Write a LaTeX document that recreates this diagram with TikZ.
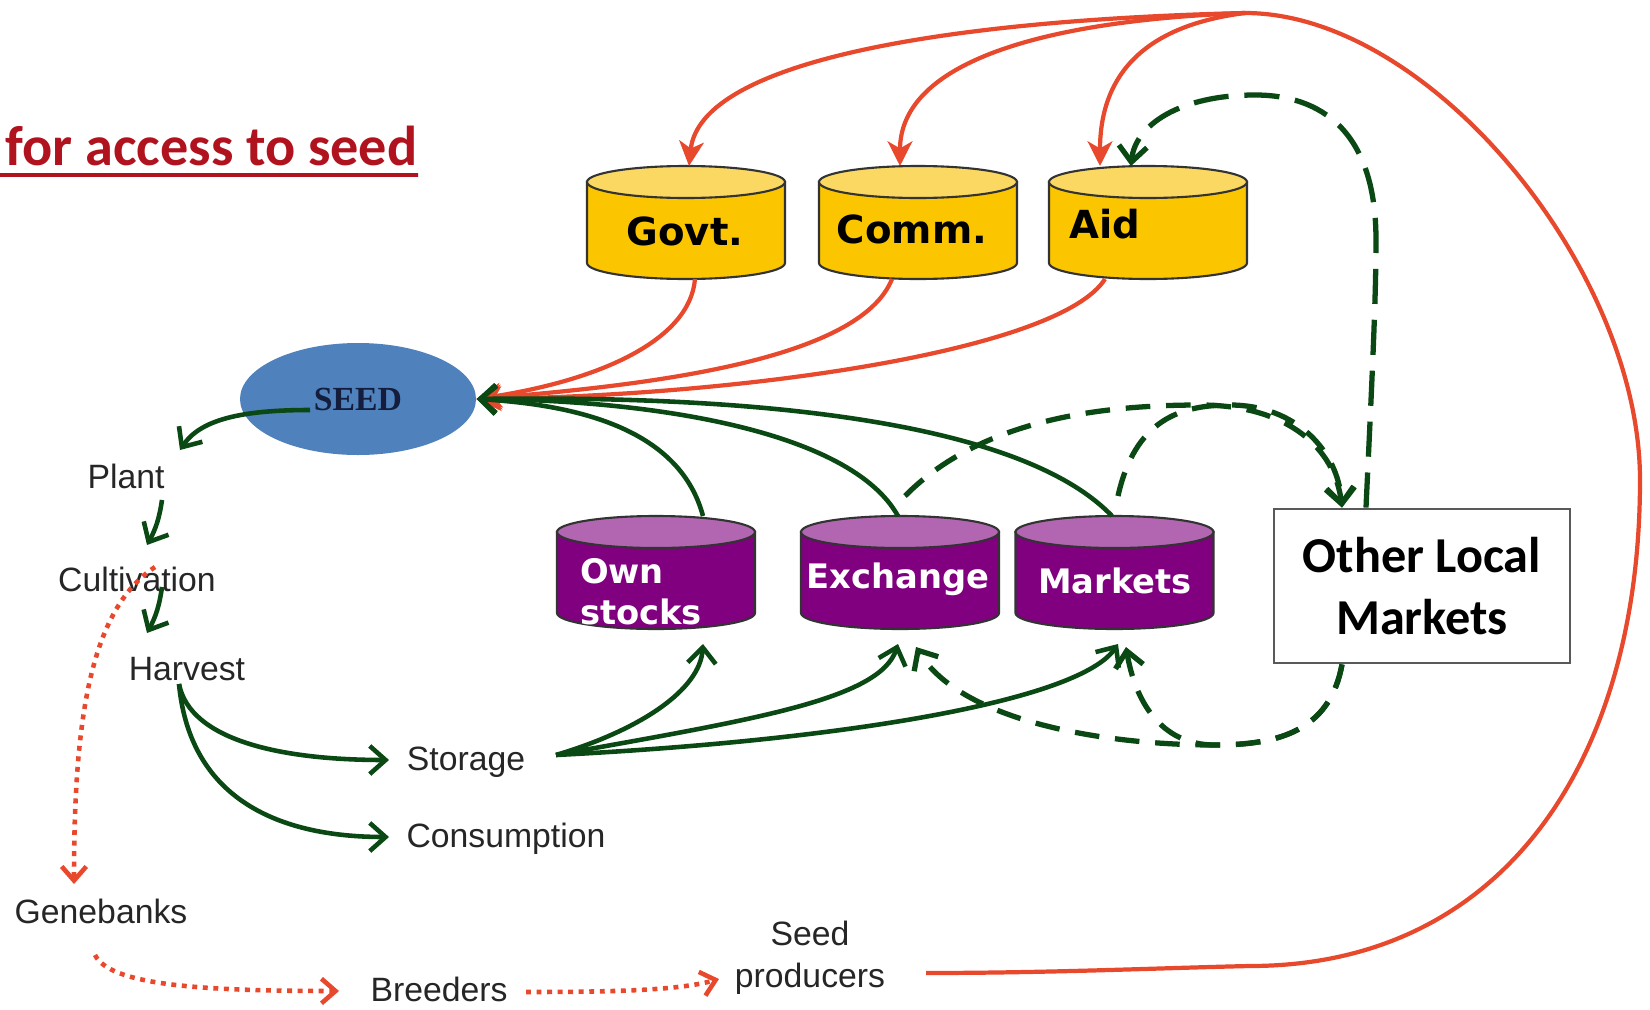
\documentclass[tikz,border=0pt]{standalone}
\usepackage{fontspec}
\setmainfont{Liberation Sans}
\newfontfamily\calibri{Carlito}
\newfontfamily\verdana{DejaVu Sans}
\newfontfamily\timesrm{Liberation Serif}
\usepackage{tikz}
\usetikzlibrary{shapes.geometric}
\usetikzlibrary{arrows.meta}
\definecolor{linkred}{RGB}{232,72,44}
\definecolor{linkgreen}{RGB}{10,72,20}
\definecolor{titlered}{RGB}{176,18,30}
\definecolor{goldbody}{RGB}{251,197,0}
\definecolor{goldtop}{RGB}{250,216,98}
\definecolor{plumbody}{RGB}{128,0,128}
\definecolor{plumtop}{RGB}{178,102,178}
\definecolor{seedblue}{RGB}{79,129,189}
\definecolor{seedtext}{RGB}{20,30,60}

% a store drum: name, x, y, body colour, lid colour
\newcommand{\storecyl}[5]{%
  \node[minimum width=1.98cm, minimum height=1.13cm, inner sep=0pt, outer sep=0pt] (#1) at (#2,#3) {};
  \filldraw[fill=#4, draw=black!80, line width=.6pt] ([yshift=-.16cm]#1.north west) -- ++(0,-.81)
    arc[start angle=180, end angle=360, x radius=.99, y radius=.16] -- ++(0,.81) -- cycle;
  \filldraw[fill=#5, draw=black!80, line width=.6pt] ([yshift=-.16cm]#1.north) ellipse[x radius=.99, y radius=.16];
}

\begin{document}
\begin{tikzpicture}[
  lbl/.style = {font=\fontsize{9.6}{12}\selectfont, text=black!85, inner sep=1pt},
  goldlbl/.style = {font=\verdana\bfseries\fontsize{11}{13}\selectfont, inner sep=0pt},
  plumlbl/.style = {font=\verdana\bfseries\fontsize{9.6}{11.7}\selectfont, text=white, align=left, inner sep=0pt},
  redlink/.style = {linkred, line width=1.2pt, -{Stealth[length=7pt,width=7pt,inset=2pt]}},
  greenlink/.style = {linkgreen, line width=1.3pt, -{Straight Barb[length=4.5pt,width=8pt]}},
  shortdash/.style = {greenlink, line width=1.5pt, dash pattern=on 7pt off 4.5pt},
  longdash/.style = {greenlink, line width=1.5pt, dash pattern=on 10pt off 4.5pt},
  dotlink/.style = {linkred, line width=1.3pt, dash pattern=on 1.4pt off 1.6pt, -{Straight Barb[length=4pt,width=7pt]}}
]
\useasboundingbox (0,0) rectangle (16.5,-10.1);
\fill[white] (0,0) rectangle (16.5,-10.1);

% title
\node[anchor=base west, inner sep=0pt, text=titlered, font=\calibri\bfseries\fontsize{16}{19}\selectfont] (title) at (.05,-1.65) {for access to seed};
\draw[titlered, line width=1pt] (0,-1.75) -- ([yshift=-.1cm]title.base east);

% stores
\storecyl{govt}{6.86}{-2.225}{goldbody}{goldtop}
\storecyl{comm}{9.18}{-2.225}{goldbody}{goldtop}
\storecyl{aid}{11.48}{-2.225}{goldbody}{goldtop}
\node[goldlbl] (govtlbl) at (6.85,-2.31) {Govt.};
\node[goldlbl] (commlbl) at (9.12,-2.29) {Comm.};
\node[goldlbl] (aidlbl) at (11.05,-2.24) {Aid};

\storecyl{own}{6.56}{-5.725}{plumbody}{plumtop}
\storecyl{exch}{9.00}{-5.725}{plumbody}{plumtop}
\storecyl{mkts}{11.145}{-5.725}{plumbody}{plumtop}
\node[plumlbl] (ownlbl) at (6.41,-5.92) {Own\\stocks};
\node[plumlbl] (exchlbl) at (8.98,-5.79) {Exchange};
\node[plumlbl] (mktslbl) at (11.15,-5.81) {Markets};

\node[draw=black!65, line width=.8pt, minimum width=2.96cm, minimum height=1.54cm, align=center,
  font=\calibri\bfseries\fontsize{14.3}{17.4}\selectfont] (olm) at (14.22,-5.86) {Other Local\\Markets};

\node[ellipse, fill=seedblue, minimum width=2.36cm, minimum height=1.12cm, inner sep=0pt,
  text=seedtext, font=\timesrm\bfseries\fontsize{9.6}{11}\selectfont] (seed) at (3.58,-3.99) {SEED};

% farm cycle
\node[lbl] (plant) at (1.26,-4.76) {Plant};
\node[lbl] (cult) at (1.37,-5.79) {Cultivation};
\node[lbl] (harv) at (1.87,-6.69) {Harvest};
\node[lbl] (stor) at (4.66,-7.62) {Storage};
\node[lbl] (cons) at (5.06,-8.39) {Consumption};
\node[lbl] (gene) at (1.01,-9.11) {Genebanks};
\node[lbl] (breed) at (4.39,-9.89) {Breeders};
\node[lbl, align=center] (prod) at (8.10,-9.58) {Seed\\producers};

\coordinate (apex) at (12.45,-.13);

% formal channel
\draw[linkred, line width=1.2pt] ([shift={(1.16,-.15)}]prod.center)
  .. controls (10.5,-9.73) and (11.6,-9.68) .. (12.5,-9.66)
  .. controls (15.04,-9.66) and (16.40,-7.60) .. (16.40,-4.80)
  .. controls (16.40,-2.70) and (14.30,-.13) .. (apex);
\draw[redlink] (apex) .. controls (9.5,-.2) and (7.0,-.6) .. ([xshift=.03cm]govt.north);
\draw[redlink] (apex) .. controls (10.5,-.2) and (9.0,-.6) .. ([xshift=-.18cm]comm.north);
\draw[redlink] (apex) .. controls (11.5,-.25) and (11.0,-.7) .. ([xshift=-.48cm]aid.north);
\draw[redlink] ([xshift=.09cm]govt.south) .. controls (6.9,-3.4) and (6.0,-3.8) .. (seed.east);
\draw[redlink] ([xshift=-.26cm]comm.south) .. controls (8.6,-3.6) and (6.5,-3.85) .. (seed.east);
\draw[redlink] ([xshift=-.43cm]aid.south) .. controls (10.6,-3.5) and (7.5,-3.95) .. (seed.east);

% local channel
\draw[greenlink] ([shift={(.47,0)}]own.north) .. controls (6.8,-4.3) and (5.8,-4.05) .. (seed.east);
\draw[greenlink] ([shift={(-.02,0)}]exch.north) .. controls (8.5,-4.3) and (6.5,-4.0) .. (seed.east);
\draw[greenlink] ([shift={(-.025,0)}]mkts.north) .. controls (10.2,-4.2) and (7.5,-3.95) .. (seed.east);

\draw[greenlink] ([shift={(-.48,-.11)}]seed.center) .. controls (2.4,-4.1) and (2.0,-4.2) .. ([shift={(.54,.26)}]plant.center);
\draw[greenlink] ([shift={(.36,-.24)}]plant.center) to[bend left=10] ([shift={(.10,.34)}]cult.center);
\draw[greenlink] ([shift={(.25,-.08)}]cult.center) to[bend left=10] ([shift={(-.40,.36)}]harv.center);
\draw[greenlink] ([shift={(-.08,-.15)}]harv.center) .. controls (1.9,-7.4) and (2.8,-7.6) .. ([shift={(-.77,.02)}]stor.center);
\draw[greenlink] ([shift={(-.08,-.15)}]harv.center) .. controls (1.9,-8.0) and (2.8,-8.37) .. ([shift={(-1.17,.02)}]cons.center);

\draw[greenlink] ([shift={(.9,.07)}]stor.center) .. controls (6.4,-7.3) and (7.0,-6.9) .. ([shift={(.47,-.15)}]own.south);
\draw[greenlink] ([shift={(.9,.07)}]stor.center) .. controls (7.5,-7.2) and (8.8,-7.0) .. ([shift={(-.02,-.15)}]exch.south);
\draw[greenlink] ([shift={(.9,.07)}]stor.center) .. controls (8.5,-7.4) and (10.8,-7.0) .. ([shift={(.035,-.15)}]mkts.south);

% other local markets
\draw[longdash] ([xshift=-.56cm]olm.north) .. controls (13.72,-3.8) and (13.76,-3.0) .. (13.76,-2.4)
  .. controls (13.76,-1.3) and (13.2,-.95) .. (12.55,-.95)
  .. controls (11.8,-.95) and (11.35,-1.25) .. ([xshift=-.17cm]aid.north);
\draw[shortdash] ([shift={(.05,.2)}]exch.north) .. controls (9.8,-4.2) and (11.0,-4.05) .. (12.0,-4.05)
  .. controls (12.9,-4.05) and (13.35,-4.5) .. ([xshift=-.8cm]olm.north);
\draw[shortdash] ([shift={(.035,.2)}]mkts.north) .. controls (11.35,-4.2) and (11.8,-4.05) .. (12.3,-4.05)
  .. controls (12.95,-4.05) and (13.38,-4.5) .. ([xshift=-.8cm]olm.north);
\draw[shortdash] ([xshift=-.8cm]olm.south) .. controls (13.3,-7.3) and (12.8,-7.45) .. (12.15,-7.45)
  .. controls (11.0,-7.45) and (9.6,-7.2) .. ([shift={(.16,-.18)}]exch.south);
\draw[shortdash] ([xshift=-.8cm]olm.south) .. controls (13.3,-7.3) and (12.8,-7.45) .. (12.15,-7.45)
  .. controls (11.6,-7.45) and (11.35,-7.0) .. ([shift={(.115,-.18)}]mkts.south);

% genebank route
\draw[dotlink] ([shift={(.18,.12)}]cult.center) .. controls (.9,-6.1) and (.74,-7.2) .. ([shift={(-.27,.27)}]gene.center);
\draw[dotlink] ([shift={(-.06,-.44)}]gene.center) .. controls (1.1,-9.85) and (2.0,-9.91) .. ([shift={(-1.0,-.02)}]breed.center);
\draw[dotlink] ([shift={(.87,-.03)}]breed.center) .. controls (6.2,-9.92) and (6.8,-9.9) .. ([shift={(-.91,-.21)}]prod.center);
\end{tikzpicture}
\end{document}
